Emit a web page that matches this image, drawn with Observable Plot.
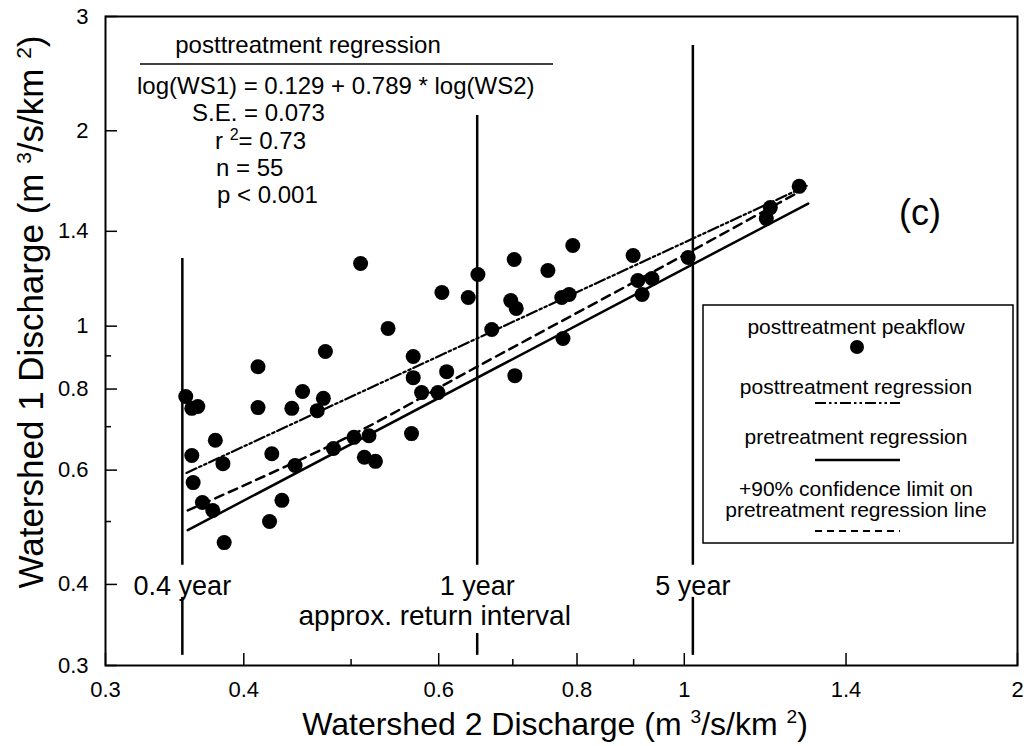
<!DOCTYPE html>
<html><head><meta charset="utf-8">
<script src="https://cdn.jsdelivr.net/npm/d3@7"></script>
<script src="https://cdn.jsdelivr.net/npm/@observablehq/plot@0.6"></script>
<style>html,body{margin:0;padding:0;background:#fff;} svg{display:block;}</style>
</head><body><div id="chart"></div>
<script>
// ---- data ----
const ws2 = [0.3545,0.359,0.3635,0.377,0.359,0.360,0.383,0.367,0.375,0.384,
             0.412,0.412,0.422,0.433,0.442,0.445,0.452,0.466,0.472,0.474,
             0.424,0.482,0.503,0.519,0.514,0.526,0.510,0.540,0.569,0.569,
             0.567,0.579,0.599,0.610,0.604,0.638,0.651,0.670,0.697,0.705,
             0.702,0.703,0.753,0.775,0.787,0.777,0.793,0.899,0.908,0.935,
             0.916,1.008,1.186,1.196,1.270];
const ws1 = [0.779,0.747,0.752,0.667,0.632,0.574,0.614,0.535,0.520,0.464,
             0.866,0.749,0.500,0.539,0.747,0.610,0.793,0.741,0.774,0.914,
             0.636,0.648,0.674,0.678,0.628,0.619,1.249,0.992,0.898,0.833,
             0.683,0.790,0.790,0.851,1.127,1.107,1.201,0.988,1.095,1.065,
             1.267,0.839,1.218,1.107,1.119,0.957,1.331,1.285,1.176,1.184,
             1.119,1.276,1.465,1.523,1.642];

// posttreatment regression (dash-dot-dot) end points
const postX = [0.355, 1.29];
const postY = [0.594, 1.645];
// pretreatment regression (solid)
const preX = [0.356, 1.294];
const preY = [0.485, 1.545];
// +90% confidence limit on pretreatment regression (dashed)
const ciX = [0.356, 0.496, 0.650, 1.017, 1.286];
const ciY = [0.520, 0.674, 0.866, 1.308, 1.630];

// approximate return intervals (vertical lines)
const riLabel = ["0.4 year", "1 year", "5 year"];
const riX = [0.352, 0.650, 1.018];
const riTop = [1.271, 2.112, 2.706];
const riUpperBottom = [0.428, 0.428, 0.428];
const riLowerTop = [0.382, 0.336, 0.382];
const riLowerBottom = [0.311, 0.311, 0.311];

// axis ticks
const xMajor = [0.3, 0.4, 0.6, 0.8, 1, 1.4, 2];
const xMinor = [0.5, 0.7, 0.9];
const yMajor = [0.3, 0.4, 0.6, 0.8, 1, 1.4, 2, 3];
const yMinor = [0.5, 0.7, 0.9];

// ---- build ----
const FONT = '"Liberation Sans", Arial, Helvetica, sans-serif';
const pts = ws2.map((x, i) => ({x, y: ws1[i]}));
const post = postX.map((x, i) => ({x, y: postY[i]}));
const pre = preX.map((x, i) => ({x, y: preY[i]}));
const ci = ciX.map((x, i) => ({x, y: ciY[i]}));
const ri = riLabel.map((label, i) => ({label, x: riX[i], top: riTop[i], ub: riUpperBottom[i], lt: riLowerTop[i], lb: riLowerBottom[i]}));

const plot = Plot.plot({
  width: 1026, height: 746,
  marginLeft: 105, marginRight: 9, marginTop: 16, marginBottom: 81,
  style: {fontFamily: FONT, fontSize: "22px", color: "black", background: "white"},
  x: {type: "log", domain: [0.3, 2]},
  y: {type: "log", domain: [0.3, 3]},
  marks: [
    // inward tick marks
    Plot.ruleX(xMajor, {x: d => d, y1: 0.3, y2: 0.3, insetBottom: 12, strokeWidth: 1.5}),
    Plot.ruleX(xMinor, {x: d => d, y1: 0.3, y2: 0.3, insetBottom: 6, strokeWidth: 1.5}),
    Plot.ruleY(yMajor, {y: d => d, x1: 0.3, x2: 0.3, insetRight: -12, strokeWidth: 1.5}),
    Plot.ruleY(yMinor, {y: d => d, x1: 0.3, x2: 0.3, insetRight: -6, strokeWidth: 1.5}),
    Plot.axisX({ticks: xMajor, tickSize: 0, tickPadding: 16, fontSize: 22, tickFormat: d => String(d), label: null}),
    Plot.axisY({ticks: yMajor, tickSize: 0, tickPadding: 17, fontSize: 22, tickFormat: d => String(d), label: null}),
    // return interval lines
    Plot.ruleX(ri, {x: "x", y1: "ub", y2: "top", strokeWidth: 2.5}),
    Plot.ruleX(ri, {x: "x", y1: "lb", y2: "lt", strokeWidth: 2.5}),
    Plot.text(ri, {x: "x", y: 0.397, text: "label", fontSize: 27, lineAnchor: "middle"}),
    Plot.text(["approx. return interval"], {x: 0.595, y: 0.358, text: d => d, fontSize: 28, lineAnchor: "middle"}),
    // regression lines
    Plot.line(pre, {x: "x", y: "y", stroke: "black", strokeWidth: 2.5}),
    Plot.line(ci, {x: "x", y: "y", stroke: "black", strokeWidth: 2.5, strokeDasharray: "9,6", curve: "catmull-rom"}),
    Plot.line(post, {x: "x", y: "y", stroke: "black", strokeWidth: 2.2, strokeDasharray: "11,3,2.5,3,2.5,3"}),
    // points
    Plot.dot(pts, {x: "x", y: "y", r: 7.5, fill: "black"}),
    Plot.frame({stroke: "black", strokeWidth: 2})
  ]
});

document.getElementById("chart").appendChild(plot);

const svg = d3.select(plot);
const g = svg.append("g").attr("font-family", FONT).attr("fill", "black").attr("text-anchor", "start");

// regression annotation block
g.append("text").attr("x", 308).attr("y", 53).attr("text-anchor", "middle").attr("font-size", 24).text("posttreatment regression");
g.append("line").attr("x1", 140).attr("x2", 553).attr("y1", 64).attr("y2", 64).attr("stroke", "black").attr("stroke-width", 1.5);
g.append("text").attr("x", 137).attr("y", 94).attr("font-size", 24).text("log(WS1) = 0.129 + 0.789 * log(WS2)");
g.append("text").attr("x", 192).attr("y", 121).attr("font-size", 24).text("S.E. = 0.073");
const r2 = g.append("text").attr("x", 215).attr("y", 149).attr("font-size", 24);
r2.append("tspan").text("r ");
r2.append("tspan").attr("dy", -9).attr("font-size", 16).text("2");
r2.append("tspan").attr("dy", 9).text("= 0.73");
g.append("text").attr("x", 216).attr("y", 176).attr("font-size", 24).text("n = 55");
g.append("text").attr("x", 217).attr("y", 203).attr("font-size", 24).text("p < 0.001");

// panel label
g.append("text").attr("x", 920).attr("y", 225).attr("text-anchor", "middle").attr("font-size", 36).text("(c)");

// axis titles
function unitTitle(sel, main) {
  sel.append("tspan").text(main + " (m ");
  sel.append("tspan").attr("dy", -12).attr("font-size", "0.6em").text("3");
  sel.append("tspan").attr("dy", 12).text("/s/km ");
  sel.append("tspan").attr("dy", -12).attr("font-size", "0.6em").text("2");
  sel.append("tspan").attr("dy", 12).text(")");
}
const xt = g.append("text").attr("x", 555).attr("y", 735).attr("text-anchor", "middle").attr("font-size", 32);
unitTitle(xt, "Watershed 2 Discharge");
const yt = g.append("text").attr("transform", "translate(43,312) rotate(-90)").attr("text-anchor", "middle").attr("font-size", 35);
unitTitle(yt, "Watershed 1 Discharge");

// legend box
const lg = g.append("g");
lg.append("rect").attr("x", 703).attr("y", 305).attr("width", 310).attr("height", 238)
  .attr("fill", "white").attr("stroke", "black").attr("stroke-width", 1.5);
const lt = (y, s) => lg.append("text").attr("x", 856).attr("y", y).attr("text-anchor", "middle").attr("font-size", 21).text(s);
lt(334, "posttreatment peakflow");
lg.append("circle").attr("cx", 857).attr("cy", 347).attr("r", 7).attr("fill", "black");
lt(394, "posttreatment regression");
lg.append("line").attr("x1", 815).attr("x2", 900).attr("y1", 403).attr("y2", 403).attr("stroke", "black").attr("stroke-width", 2).attr("stroke-dasharray", "11,3,2.5,3,2.5,3");
lt(444, "pretreatment regression");
lg.append("line").attr("x1", 815).attr("x2", 900).attr("y1", 460).attr("y2", 460).attr("stroke", "black").attr("stroke-width", 2.5);
lt(496, "+90% confidence limit on");
lt(517, "pretreatment regression line");
lg.append("line").attr("x1", 815).attr("x2", 900).attr("y1", 531).attr("y2", 531).attr("stroke", "black").attr("stroke-width", 2).attr("stroke-dasharray", "7,5");
</script></body></html>
